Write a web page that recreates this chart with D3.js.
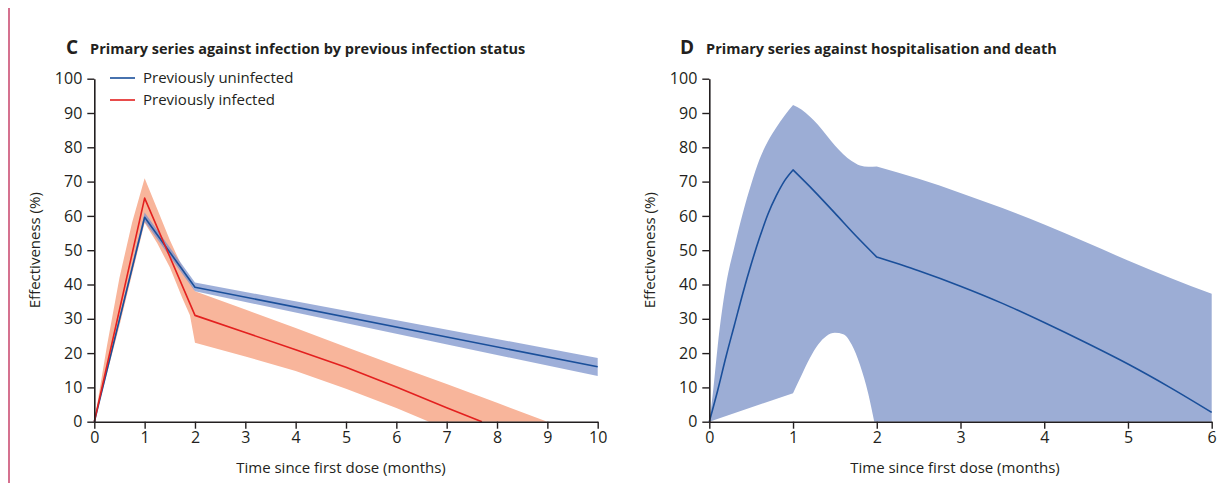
<!DOCTYPE html>
<html><head><meta charset="utf-8">
<script src="https://cdn.jsdelivr.net/npm/d3@7"></script>
<style>
html,body{margin:0;padding:0;background:#fff;}
svg{display:block;font-family:"Open Sans",sans-serif;}
</style></head>
<body>
<svg id="chart" width="1224" height="483"></svg>
<script>
// ---------- DATA ----------
const yTicks = [0,10,20,30,40,50,60,70,80,90,100];
const cXTicks = [0,1,2,3,4,5,6,7,8,9,10];
const dXTicks = [0,1,2,3,4,5,6];

// Panel C – previously uninfected
const cUninfX   = [0, 1, 2, 10];
const cUninfMid = [0, 59.6, 39.2, 16.0];
const cUninfLo  = [0, 58.3, 38.0, 13.3];
const cUninfHi  = [0, 61.0, 40.6, 18.6];

// Panel C – previously infected
const cInfX     = [0, 1, 2, 3, 4, 5, 6, 7, 7.7];
const cInfMid   = [0, 65.2, 31, 26, 21, 15.9, 10.1, 4.1, 0];
const cInfHiX   = [0, 0.25, 0.5, 0.75, 1, 1.25, 1.5, 1.75, 2, 3, 4, 5, 6, 7, 8, 9];
const cInfHi    = [0, 22, 42, 58, 71, 62, 53, 45, 38, 32.7, 27.3, 21.8, 16.3, 11, 5.5, 0];
const cInfLoX   = [0, 0.5, 1, 1.25, 1.5, 1.75, 1.9, 2, 3, 4, 5, 6, 6.65, 9];
const cInfLo    = [0, 28, 58, 52, 45, 36, 31, 23, 19, 14.8, 9.6, 4, 0, 0];

// Panel D – hospitalisation and death (segments split at the kinks)
const dMidX = [[0, 0.1, 0.2, 0.3, 0.4, 0.5, 0.6, 0.7, 0.8, 0.9, 1], [1, 1.25, 1.5, 1.75, 2], [2, 2.5, 3, 3.5, 4, 4.5, 5, 5.5, 6]];
const dMid  = [[0, 9.1, 19, 28.2, 37.4, 45.9, 53.6, 60.5, 65.9, 70.3, 73.4], [73.4, 67.3, 60.8, 54.2, 48], [48, 44, 39.5, 34.5, 28.9, 23, 16.8, 10, 2.7]];
const dHiX  = [[0, 0.05, 0.1, 0.2, 0.3, 0.4, 0.5, 0.6, 0.7, 0.8, 0.9, 1], [1, 1.1, 1.2, 1.3, 1.4, 1.5, 1.6, 1.7, 1.8, 1.9, 2], [2, 2.5, 3, 3.5, 4, 4.5, 5, 5.5, 6]];
const dHi   = [[0, 10, 22, 40, 51, 60.8, 69.2, 76.5, 81.8, 85.8, 89.3, 92.3], [92.3, 91, 89, 86.5, 83.5, 80.5, 78, 76, 74.7, 74.3, 74.4], [74.4, 70.8, 66.7, 62.3, 57.5, 52.3, 47, 42, 37.3]];
const dLoX  = [[0, 1], [1, 1.1, 1.2, 1.3, 1.4, 1.5, 1.6, 1.7, 1.8, 1.9, 1.97], [1.97, 6]];
const dLo   = [[0, 8.3], [8.3, 13.5, 18.5, 22.5, 25, 25.9, 25.5, 22.5, 16.5, 8, 0], [0, 0]];

// ---------- STYLE ----------
const BLUE_LINE = "#1a4f9a", BLUE_BAND = "#9cadd5";
const RED_LINE = "#e3201f", RED_BAND = "#f8b59b";
const AX = "#231f20";

const svg = d3.select("#chart");
svg.append("rect").attr("x",8).attr("y",8).attr("width",2).attr("height",475).attr("fill","#d5718f");

const yScale = d3.scaleLinear().domain([0,100]).range([421.7, 78.7]);
const xC = d3.scaleLinear().domain([0,10]).range([94.3, 597.7]);
const xD = d3.scaleLinear().domain([0,6]).range([709.3, 1211.7]);

function pts(xs, ys){ return xs.map((x,i)=>[x, ys[i]]); }
function band(g, x, hiX, hi, loX, lo, fill, op){
  const poly = pts(hiX, hi).concat(pts(loX, lo).reverse());
  g.append("path")
    .attr("d", d3.line().x(d=>x(d[0])).y(d=>yScale(d[1])).curve(d3.curveLinearClosed)(poly))
    .attr("fill", fill).attr("fill-opacity", op);
}
// smooth path through segments (monotone within each segment)
function segPath(x, segsX, segsY, reverse){
  let segs = segsX.map((sx,i)=>pts(sx, segsY[i]));
  if (reverse) segs = segs.reverse().map(s=>s.slice().reverse());
  const gen = d3.line().x(d=>x(d[0])).y(d=>yScale(d[1])).curve(d3.curveMonotoneX);
  return segs.map((s,i)=>{ const p = gen(s); return i===0 ? p : "L" + p.slice(1); }).join("");
}
function smoothBand(g, x, hiX, hi, loX, lo, fill){
  const d = segPath(x, hiX, hi, false) + "L" + segPath(x, loX, lo, true).slice(1) + "Z";
  g.append("path").attr("d", d).attr("fill", fill);
}
function line(g, x, xs, ys, color){
  g.append("path")
    .attr("d", d3.line().x(d=>x(d[0])).y(d=>yScale(d[1]))(pts(xs, ys)))
    .attr("fill","none").attr("stroke", color).attr("stroke-width",1.6).attr("stroke-linejoin","round");
}
function axes(x, xticks, cx){
  const gy = svg.append("g").attr("transform",`translate(${x.range()[0]},0)`)
    .call(d3.axisLeft(yScale).tickValues(yTicks).tickFormat(d3.format("d")).tickSize(7).tickSizeOuter(0).tickPadding(5));
  const gx = svg.append("g").attr("transform",`translate(0,${yScale(0)})`)
    .call(d3.axisBottom(x).tickValues(xticks).tickFormat(d3.format("d")).tickSize(7).tickSizeOuter(0).tickPadding(3));
  [gx, gy].forEach(g=>{
    g.select(".domain").attr("stroke",AX).attr("stroke-width",1.6);
    g.selectAll(".tick line").attr("stroke",AX).attr("stroke-width",1.4);
    g.selectAll(".tick text").attr("fill",AX).style("font-size","16px").style("font-family","Open Sans");
  });
  svg.append("text").attr("x", cx).attr("y", 473).attr("text-anchor","middle")
    .attr("fill",AX).style("font-size","15px").text("Time since first dose (months)");
  svg.append("text").attr("transform",`translate(${x.range()[0]-54},${yScale(50)}) rotate(-90)`)
    .attr("text-anchor","middle").attr("fill",AX).style("font-size","15px").text("Effectiveness (%)");
}
function title(x, letter, txt){
  const t = svg.append("text").attr("x", x).attr("y", 54).attr("fill",AX).style("font-weight","bold");
  t.append("tspan").style("font-size","19px").text(letter);
  t.append("tspan").attr("dx", 12).style("font-size","14.5px").text(txt);
}

// Panel C
const gC = svg.append("g");
band(gC, xC, cInfHiX, cInfHi, cInfLoX, cInfLo, RED_BAND, 1);
band(gC, xC, cUninfX, cUninfHi, cUninfX, cUninfLo, "#7e94cc", 0.75);
line(gC, xC, cUninfX, cUninfMid, BLUE_LINE);
line(gC, xC, cInfX, cInfMid, RED_LINE);
axes(xC, cXTicks, 341);
title(66, "C", "Primary series against infection by previous infection status");

// legend
const legend = [{label:"Previously uninfected", color:BLUE_LINE},{label:"Previously infected", color:RED_LINE}];
legend.forEach((d,i)=>{
  const y = 78 + i*22;
  svg.append("line").attr("x1",110).attr("x2",135).attr("y1",y).attr("y2",y).attr("stroke",d.color).attr("stroke-width",1.6);
  svg.append("text").attr("x",143).attr("y",y+5).attr("fill",AX).style("font-size","15px").text(d.label);
});

// Panel D
const gD = svg.append("g");
smoothBand(gD, xD, dHiX, dHi, dLoX, dLo, BLUE_BAND);
gD.append("path").attr("d", segPath(xD, dMidX, dMid, false))
  .attr("fill","none").attr("stroke",BLUE_LINE).attr("stroke-width",1.6).attr("stroke-linejoin","round");
axes(xD, dXTicks, 955);
title(680, "D", "Primary series against hospitalisation and death");
</script>
</body></html>
